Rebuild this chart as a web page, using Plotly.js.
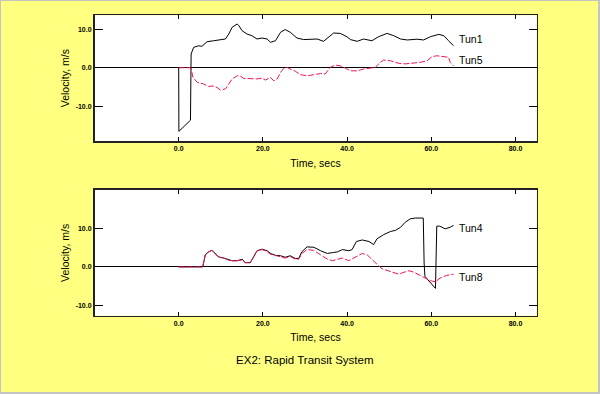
<!DOCTYPE html>
<html>
<head>
<meta charset="utf-8">
<script src="https://cdn.plot.ly/plotly-3.0.1.min.js"></script>
<style>
  html, body { margin: 0; padding: 0; background: #ffff80; }
  #wrap { position: relative; width: 600px; height: 394px; }
  #chart { width: 600px; height: 394px; }
  #frame { position: absolute; left: 0; top: 0; width: 600px; height: 394px; box-sizing: border-box;
           border-left: 1px solid #c4c4c4; border-top: 1px solid #c4c4c4;
           border-right: 2px solid #c4c4c4; border-bottom: 2px solid #c4c4c4; pointer-events: none; }
</style>
</head>
<body>
<div id="wrap"><div id="chart"></div><div id="frame"></div></div>
<script>
// ---- data ----
const chartTitle = "EX2: Rapid Transit System";
const xTitle = "Time, secs";
const yTitle = "Velocity, m/s";
const xTickVals = [0, 20, 40, 60, 80];
const xTickText = ["0.0", "20.0", "40.0", "60.0", "80.0"];
const yTickVals = [-10, 0, 10];
const yTickText = ["-10.0", "0.0", "10.0"];

const tun1Name = "Tun1";
const tun1X = [0, 0.05, 2.8, 2.95, 3.56, 4.75, 5.5, 5.94, 6.74, 8.3, 9.9, 11.1, 11.9, 12.7, 13.9, 14.3, 15.06, 16.2, 17.4, 18.6, 19.8, 21.0, 21.8, 23.0, 24.2, 25.3, 26.5, 28.1, 29.7, 31.3, 32.9, 34.4, 35.6, 36.8, 38.4, 40.0, 40.8, 42.4, 43.9, 45.9, 47.5, 49.5, 51.1, 52.7, 54.3, 56.6, 58.2, 59.8, 61.8, 63.0, 64.1, 65.3];
const tun1Y = [0, -16.5, -13.6, 3.56, 5.3, 5.7, 5.55, 6.0, 6.75, 7.0, 7.2, 7.45, 8.75, 10.5, 11.35, 10.9, 9.6, 8.75, 8.3, 7.45, 7.7, 7.45, 6.6, 7.0, 9.2, 9.9, 9.2, 7.7, 7.3, 7.4, 7.45, 6.85, 8.0, 9.0, 8.9, 8.0, 7.3, 6.85, 7.45, 7.0, 8.05, 8.9, 8.3, 7.45, 7.2, 7.4, 7.2, 8.05, 8.65, 8.3, 7.0, 5.7];

const tun5Name = "Tun5";
const tun5X = [0, 2.8, 2.94, 3.4, 4.4, 5.9, 7.1, 7.9, 9.1, 9.9, 11.1, 11.9, 12.7, 13.9, 14.6, 15.4, 17.0, 18.6, 19.8, 20.6, 21.8, 22.6, 23.4, 24.2, 24.9, 25.7, 26.5, 27.7, 28.9, 30.5, 32.1, 33.7, 34.8, 36.0, 37.2, 38.4, 39.6, 40.8, 42.4, 43.9, 45.5, 46.7, 47.9, 48.7, 50.3, 52.3, 53.8, 55.8, 57.4, 59.0, 60.2, 61.4, 63.0, 64.1, 64.5, 65.3];
const tun5Y = [0, 0, -0.3, -2.5, -3.8, -4.2, -4.9, -4.7, -5.1, -5.8, -5.5, -4.2, -2.9, -2.1, -2.1, -2.75, -2.9, -2.9, -2.7, -3.2, -2.5, -3.4, -2.9, -1.2, -0.2, 0.1, -0.35, -0.9, -1.8, -2.1, -1.8, -1.5, -1.65, 0.1, 0.7, 0.5, -0.1, -0.8, -0.8, -0.35, -0.1, 0.1, 1.4, 2.0, 1.8, 1.15, 1.0, 1.2, 1.4, 1.8, 2.9, 3.1, 2.9, 2.7, 1.4, 0.5];

const tun4Name = "Tun4";
const tun4X = [0, 5.7, 6.3, 7.1, 7.9, 8.7, 9.5, 10.7, 11.9, 12.7, 13.9, 15.1, 15.8, 17.0, 17.8, 18.6, 19.8, 21.0, 21.8, 23.0, 24.2, 25.3, 26.5, 27.7, 28.5, 29.3, 30.5, 32.1, 33.7, 35.3, 36.5, 37.7, 38.9, 40.4, 41.2, 42.2, 43.6, 45.2, 46.3, 47.1, 48.7, 50.3, 51.5, 52.7, 53.8, 55.0, 56.2, 58.1, 58.3, 58.5, 61.0, 61.3, 62.0, 63.3, 64.5, 65.3];
const tun4Y = [0, 0, 3.1, 3.9, 4.3, 3.5, 2.6, 2.3, 1.8, 1.6, 1.6, 2.0, 1.1, 1.1, 2.6, 4.2, 4.6, 4.2, 3.5, 3.0, 2.9, 2.5, 2.9, 2.2, 2.2, 4.0, 5.2, 5.1, 4.2, 3.5, 3.7, 3.9, 4.5, 4.2, 4.5, 6.6, 7.0, 6.6, 5.8, 7.3, 8.4, 9.2, 9.5, 10.3, 11.6, 12.5, 12.7, 12.7, 1.0, -2.5, -5.6, 10.6, 10.6, 9.9, 10.3, 10.8];

const tun8Name = "Tun8";
const tun8X = [0, 5.7, 6.3, 7.1, 7.9, 8.7, 9.5, 10.7, 11.9, 12.7, 13.9, 15.1, 15.8, 17.0, 17.8, 18.6, 19.8, 21.0, 21.8, 23.0, 24.2, 25.3, 26.5, 27.7, 28.5, 29.3, 30.5, 32.1, 33.7, 35.3, 36.5, 37.7, 38.9, 40.4, 42.0, 43.6, 44.8, 45.9, 47.1, 48.3, 49.9, 51.1, 52.3, 53.5, 54.7, 55.9, 57.1, 58.3, 59.8, 61.0, 62.1, 63.7, 65.3];
const tun8Y = [0, 0, 3.1, 3.9, 4.3, 3.5, 2.5, 2.3, 1.7, 1.6, 1.6, 1.8, 1.1, 1.1, 2.6, 4.2, 4.5, 4.0, 3.3, 2.9, 2.7, 2.3, 2.7, 2.0, 2.0, 3.5, 4.5, 4.3, 3.1, 2.05, 1.6, 2.05, 2.3, 1.6, 2.6, 3.5, 3.1, 2.05, 0.7, -0.5, -1.0, -1.4, -1.9, -1.4, -1.0, -1.4, -2.05, -2.7, -3.6, -3.9, -2.9, -2.2, -1.9];

// ---- styling ----
const blackLine = { color: "#000000", width: 1 };
const redLine = { color: "#f0145a", width: 1, dash: "6px,2px" };
const textFont = "Liberation Sans, Arial, sans-serif";
const tickFont = { family: "Liberation Sans, Arial, sans-serif", size: 7, color: "#000", weight: "bold" };

const traces = [
  { x: tun1X, y: tun1Y, name: tun1Name, type: "scatter", mode: "lines", line: blackLine, xaxis: "x", yaxis: "y" },
  { x: tun5X, y: tun5Y, name: tun5Name, type: "scatter", mode: "lines", line: redLine, xaxis: "x", yaxis: "y" },
  { x: tun4X, y: tun4Y, name: tun4Name, type: "scatter", mode: "lines", line: blackLine, xaxis: "x2", yaxis: "y2" },
  { x: tun8X, y: tun8Y, name: tun8Name, type: "scatter", mode: "lines", line: redLine, xaxis: "x2", yaxis: "y2" }
];

function xAxis(anchor) {
  return {
    domain: [0.1575, 0.8942], anchor: anchor, range: [-20, 85],
    tickmode: "array", tickvals: xTickVals, ticktext: xTickText,
    ticks: "inside", ticklen: 4, tickwidth: 1, tickcolor: "#000",
    showline: true, linecolor: "#222", linewidth: 1.5, mirror: "ticks",
    showgrid: false, zeroline: false, tickfont: tickFont,
    title: { text: xTitle, font: { family: textFont, size: 10.5, color: "#000" }, standoff: 8 }
  };
}
function yAxis(domain, range, anchor) {
  return {
    domain: domain, anchor: anchor, range: range,
    tickmode: "array", tickvals: yTickVals, ticktext: yTickText,
    ticks: "inside", ticklen: 8, tickwidth: 1, tickcolor: "#000",
    showline: true, linecolor: "#222", linewidth: 1.5, mirror: "ticks",
    showgrid: false, zeroline: true, zerolinecolor: "#000", zerolinewidth: 1,
    tickfont: tickFont,
    title: { text: yTitle, font: { family: textFont, size: 10.5, color: "#000" }, standoff: 4 }
  };
}

const labelFont = { family: textFont, size: 10.5, color: "#000" };
const layout = {
  width: 600, height: 394,
  paper_bgcolor: "#ffff80", plot_bgcolor: "#ffffff",
  margin: { l: 0, r: 0, t: 0, b: 0 },
  showlegend: false,
  title: { text: chartTitle, x: 0.508, xanchor: "center", y: 0.087, yanchor: "middle",
           font: { family: textFont, size: 11.5, color: "#000" } },
  xaxis: xAxis("y"),
  yaxis: yAxis([0.6421, 0.9612], [-19, 13.6], "x"),
  xaxis2: xAxis("y2"),
  yaxis2: yAxis([0.1987, 0.5178], [-12.7, 20], "x2"),
  annotations: [
    { xref: "x", yref: "y", x: tun1X[tun1X.length - 1], y: tun1Y[tun1Y.length - 1], text: tun1Name, showarrow: false, xanchor: "left", yanchor: "middle", xshift: 3, yshift: 7, font: labelFont },
    { xref: "x", yref: "y", x: tun5X[tun5X.length - 1], y: tun5Y[tun5Y.length - 1], text: tun5Name, showarrow: false, xanchor: "left", yanchor: "middle", xshift: 3, yshift: 6, font: labelFont },
    { xref: "x2", yref: "y2", x: tun4X[tun4X.length - 1], y: tun4Y[tun4Y.length - 1], text: tun4Name, showarrow: false, xanchor: "left", yanchor: "middle", xshift: 3, yshift: -3, font: labelFont },
    { xref: "x2", yref: "y2", x: tun8X[tun8X.length - 1], y: tun8Y[tun8Y.length - 1], text: tun8Name, showarrow: false, xanchor: "left", yanchor: "middle", xshift: 3, yshift: -3, font: labelFont }
  ]
};

Plotly.newPlot("chart", traces, layout, { staticPlot: true, displayModeBar: false });
</script>
</body>
</html>
